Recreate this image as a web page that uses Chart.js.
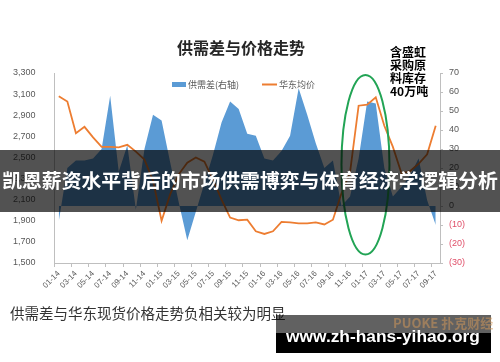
<!DOCTYPE html>
<html>
<head>
<meta charset="utf-8">
<script src="https://cdn.jsdelivr.net/npm/chart.js@4/dist/chart.umd.min.js"></script>
<style>
  html, body { margin: 0; padding: 0; background: #fff; }
  #wrap { width: 500px; height: 362px; }
</style>
</head>
<body>
<div id="wrap"><canvas id="chart" width="500" height="362"></canvas></div>
<script>
// monthly categories, labelled every other month
const months = [
  '01-14','02-14','03-14','04-14','05-14','06-14','07-14','08-14','09-14','10-14','11-14','12-14',
  '01-15','02-15','03-15','04-15','05-15','06-15','07-15','08-15','09-15','10-15','11-15','12-15',
  '01-16','02-16','03-16','04-16','05-16','06-16','07-16','08-16','09-16','10-16','11-16','12-16',
  '01-17','02-17','03-17','04-17','05-17','06-17','07-17','08-17','09-17'
];

// 华东均价 (left axis)
const eastPrice = [
  3080, 3030, 2730, 2790, 2690, 2600, 2600, 2595, 2620, 2555, 2480, 2280,
  1900, 2150, 2340, 2450, 2500, 2460, 2290, 2100, 1930, 1905, 1910, 1800,
  1775, 1800, 1890, 1885, 1875, 1875, 1885, 1865, 1910, 2160, 2360, 2990,
  3000, 3070, 2800, 2600, 2350, 2370, 2440, 2530, 2800
];

// 供需差 (right axis)
const supplyGap = [
  -8, 20, 24, 24, 25, 30, 58, 18, 32, -2, 30, 48,
  45, 23, 2, -18, -3, 12, 27, 44, 55, 51, 38, 37,
  25, 24, 29, 37, 62, 48, 33, 20, 24, 0, 5, 25,
  55, 54, 20, 5, 10, 16, 25, 3, -10
];

const leftAxis = { min: 1500, max: 3300, step: 200 };
const rightAxis = { min: -30, max: 70, step: 10 };

const seriesNames = ['供需差(右轴)', '华东均价'];
const titleText = '供需差与价格走势';
const noteLines = ['含盛虹', '采购原', '料库存', '40万吨'];
const captionText = '供需差与华东现货价格走势负相关较为明显';
const bannerText = '凯恩薪资水平背后的市场供需博弈与体育经济学逻辑分析';
const siteText = 'www.zh-hans-yihao.org';

// circled period (category index / right-axis values)
const circle = { from: 33.0, to: 38.6, top: 69, bottom: -25.5 };

const CJK = '"Noto Sans CJK SC", "Noto Sans", sans-serif';
const BLUE = '#5b9bd5';
const ORANGE = '#ed7d31';
const AXIS = '#bfbfbf';
const LABEL = '#595959';

const overlay = {
  id: 'overlay',
  afterDraw(chart) {
    const ctx = chart.ctx;
    const x = chart.scales.x, y1 = chart.scales.y1;
    ctx.save();

    // title
    ctx.fillStyle = '#262626';
    ctx.font = 'bold 16px ' + CJK;
    ctx.textAlign = 'center';
    ctx.textBaseline = 'middle';
    ctx.fillText(titleText, 241, 48);

    // legend
    ctx.textAlign = 'left';
    ctx.font = '9px ' + CJK;
    ctx.fillStyle = BLUE;
    ctx.fillRect(172, 82, 14, 5);
    ctx.fillStyle = LABEL;
    ctx.fillText(seriesNames[0], 188, 85);
    ctx.strokeStyle = ORANGE;
    ctx.lineWidth = 2;
    ctx.beginPath();
    ctx.moveTo(262, 84.5);
    ctx.lineTo(277, 84.5);
    ctx.stroke();
    ctx.fillText(seriesNames[1], 279, 85);

    // green ellipse around the 2017 spike
    const xl = x.getPixelForValue(circle.from), xr = x.getPixelForValue(circle.to);
    const yt = y1.getPixelForValue(circle.top), yb = y1.getPixelForValue(circle.bottom);
    ctx.strokeStyle = '#22a455';
    ctx.lineWidth = 2;
    ctx.beginPath();
    ctx.ellipse((xl + xr) / 2, (yt + yb) / 2, (xr - xl) / 2, (yb - yt) / 2, 0, 0, Math.PI * 2);
    ctx.stroke();

    // note
    ctx.fillStyle = '#000';
    ctx.font = 'bold 12px ' + CJK;
    noteLines.forEach((t, i) => ctx.fillText(t, 390, 52 + i * 13));

    // caption
    ctx.fillStyle = '#333';
    ctx.font = '14.5px ' + CJK;
    ctx.fillText(captionText, 10, 313);

    // banner
    ctx.fillStyle = 'rgba(0,0,0,0.68)';
    ctx.fillRect(0, 150, 500, 62);
    ctx.fillStyle = '#fff';
    ctx.textAlign = 'center';
    ctx.font = 'bold 20px ' + CJK;
    let w = ctx.measureText(bannerText).width;
    ctx.font = 'bold ' + (20 * 496 / w).toFixed(2) + 'px ' + CJK;
    ctx.fillText(bannerText, 250, 180);

    // watermark box
    ctx.fillStyle = 'rgba(0,0,0,0.62)';
    ctx.fillRect(276, 315, 215, 18);
    ctx.fillStyle = 'rgba(205,150,90,0.55)';
    ctx.font = 'bold 13px ' + CJK;
    ctx.textAlign = 'left';
    ctx.fillText('PUOKE 扑克财经', 393, 323);
    ctx.fillStyle = '#000';
    ctx.fillRect(276, 333, 215, 20);
    ctx.fillStyle = '#fff';
    ctx.textAlign = 'center';
    ctx.font = 'bold 20px "Liberation Sans", Arial, sans-serif';
    w = ctx.measureText(siteText).width;
    ctx.font = 'bold ' + (20 * 194 / w).toFixed(2) + 'px "Liberation Sans", Arial, sans-serif';
    ctx.fillText(siteText, 383, 337);

    ctx.restore();
  }
};

new Chart(document.getElementById('chart'), {
  type: 'line',
  data: {
    labels: months,
    datasets: [{
      label: seriesNames[1],
      data: eastPrice,
      yAxisID: 'y',
      borderColor: ORANGE,
      borderWidth: 1.8,
      pointRadius: 0,
      tension: 0,
      fill: false,
      order: 1
    }, {
      label: seriesNames[0],
      data: supplyGap,
      yAxisID: 'y1',
      backgroundColor: BLUE,
      borderColor: BLUE,
      borderWidth: 0,
      pointRadius: 0,
      tension: 0,
      fill: 'origin',
      order: 2
    }]
  },
  options: {
    responsive: false,
    animation: false,
    devicePixelRatio: 1,
    layout: { padding: { top: 73, left: 0, right: 0, bottom: 0 } },
    plugins: {
      legend: { display: false },
      title: { display: false },
      tooltip: { enabled: false }
    },
    scales: {
      x: {
        offset: true,
        afterFit: s => { s.height = 99; },
        border: { display: true, color: AXIS },
        grid: {
          offset: true,
          drawOnChartArea: false,
          drawTicks: true,
          tickLength: 4,
          color: c => (c.index % 2 === 0 ? AXIS : 'rgba(0,0,0,0)')
        },
        ticks: {
          autoSkip: false,
          minRotation: 45,
          maxRotation: 45,
          padding: 2,
          color: LABEL,
          font: { size: 8, family: 'Liberation Sans, Arial, sans-serif' },
          callback: (v, i) => (i % 2 === 0 ? months[i] : '')
        }
      },
      y: {
        position: 'left',
        min: leftAxis.min,
        max: leftAxis.max,
        afterFit: s => { s.width = 54.5; },
        border: { display: true, color: AXIS },
        grid: { display: false },
        ticks: {
          stepSize: leftAxis.step,
          padding: 11,
          color: LABEL,
          font: { size: 9, family: 'Liberation Sans, Arial, sans-serif' },
          callback: v => v.toLocaleString('en-US')
        }
      },
      y1: {
        position: 'right',
        min: rightAxis.min,
        max: rightAxis.max,
        afterFit: s => { s.width = 60; },
        border: { display: true, color: AXIS },
        grid: { drawOnChartArea: false, drawTicks: true, tickLength: 3, color: AXIS },
        ticks: {
          stepSize: rightAxis.step,
          padding: 6,
          color: c => (c.tick.value < 0 ? '#e0506a' : LABEL),
          font: { size: 9, family: 'Liberation Sans, Arial, sans-serif' },
          callback: v => (v < 0 ? '(' + (-v) + ')' : String(v))
        }
      }
    }
  },
  plugins: [overlay]
});
</script>
</body>
</html>
